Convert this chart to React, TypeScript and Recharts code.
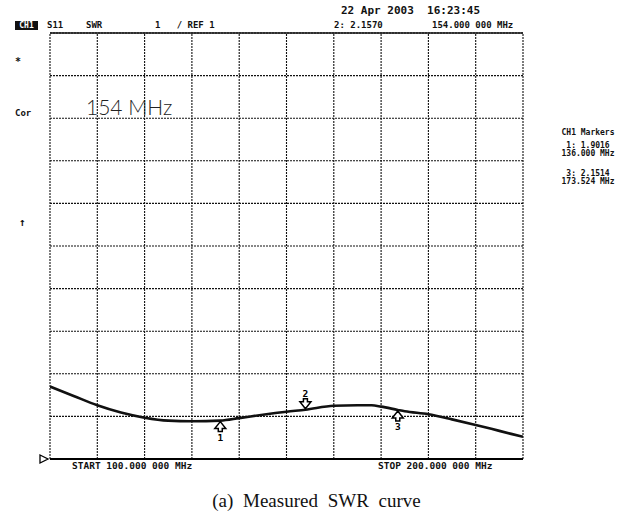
import { ComposedChart, Line, Scatter, XAxis, YAxis, ReferenceLine, ReferenceDot } from "recharts";

// measured trace, MHz vs SWR
const freqs = [100, 105, 110, 115, 120, 125, 130, 136, 140, 145, 150, 154, 160, 165, 168, 170, 173.524, 175, 180, 185, 190, 195, 200];
const swr = [2.7, 2.48, 2.26, 2.09, 1.97, 1.9, 1.885, 1.9016, 1.96, 2.04, 2.11, 2.157, 2.25, 2.26, 2.26, 2.23, 2.1514, 2.12, 2.05, 1.93, 1.8, 1.66, 1.52];

const markerIds = [1, 2, 3];
const markerFreqs = [136, 154, 173.524];
const markerSwr = [1.9016, 2.157, 2.1514];
const markerUp = [true, false, true];

const freqTicks = [100, 110, 120, 130, 140, 150, 160, 170, 180, 190, 200];
const swrTicks = [1, 2, 3, 4, 5, 6, 7, 8, 9, 10, 11];

const trace = freqs.map((f, i) => ({ freq: f, swr: swr[i] }));
const markers = markerIds.map((id, i) => ({ id, freq: markerFreqs[i], swr: markerSwr[i], up: markerUp[i] }));

const mono = "'DejaVu Sans Mono', monospace";

function MarkerShape(props: any) {
  const { cx, cy, payload } = props;
  if (payload.up) {
    const d = `M${cx},${cy + 1} L${cx - 5.5},${cy + 8} L${cx - 2},${cy + 8} L${cx - 2},${cy + 11} L${cx + 2},${cy + 11} L${cx + 2},${cy + 8} L${cx + 5.5},${cy + 8} Z`;
    return (
      <g>
        <path d={d} fill="#fff" stroke="#000" strokeWidth={1.5} />
        <text x={cx} y={cy + 20} textAnchor="middle" fontSize={9.5} fontFamily={mono} fontWeight="bold">{payload.id}</text>
      </g>
    );
  }
  const d = `M${cx},${cy - 1} L${cx - 5.5},${cy - 8} L${cx - 2},${cy - 8} L${cx - 2},${cy - 11} L${cx + 2},${cy - 11} L${cx + 2},${cy - 8} L${cx + 5.5},${cy - 8} Z`;
  return (
    <g>
      <path d={d} fill="#fff" stroke="#000" strokeWidth={1.5} />
      <text x={cx} y={cy - 13} textAnchor="middle" fontSize={9.5} fontFamily={mono} fontWeight="bold">{payload.id}</text>
    </g>
  );
}

function RefShape(props: any) {
  const { cx, cy } = props;
  return <path d={`M${cx - 10},${cy - 4} L${cx - 2},${cy} L${cx - 10},${cy + 4} Z`} fill="#fff" stroke="#000" strokeWidth={1.3} />;
}

function T({ x, y, size = 9, children, bold = true, font = mono, style = {} }: any) {
  return (
    <div
      style={{
        position: "absolute",
        left: x,
        top: y - size / 2,
        fontSize: size,
        lineHeight: `${size}px`,
        fontFamily: font,
        fontWeight: bold ? "bold" : "normal",
        whiteSpace: "pre",
        color: "#111",
        ...style,
      }}
    >
      {children}
    </div>
  );
}

export default function App() {
  const m1 = markers[0];
  const m2 = markers[1];
  const m3 = markers[2];
  return (
    <div style={{ position: "absolute", left: 0, top: 0, width: 633, height: 514, background: "#fff" }}>
      <ComposedChart width={633} height={514} margin={{ top: 33, right: 110, bottom: 55, left: 50 }}>
        <XAxis dataKey="freq" type="number" domain={[100, 200]} ticks={freqTicks} tick={false} tickLine={false} axisLine={false} height={0} allowDataOverflow />
        <YAxis dataKey="swr" type="number" domain={[1, 11]} ticks={swrTicks} tick={false} tickLine={false} axisLine={false} width={0} allowDataOverflow />
        {freqTicks.map((f) => (
          <ReferenceLine key={`v${f}`} x={f} stroke="#111" strokeWidth={1.1} strokeDasharray="2 1" />
        ))}
        {swrTicks.map((s) => (
          <ReferenceLine key={`h${s}`} y={s} stroke="#111" strokeWidth={1.1} strokeDasharray="2 1" />
        ))}
        <ReferenceLine y={11} stroke="#111" strokeWidth={1.3} />
        <ReferenceLine y={1} stroke="#000" strokeWidth={2} />
        <Line data={trace} dataKey="swr" type="monotone" stroke="#111" strokeWidth={2.6} dot={false} isAnimationActive={false} />
        <Scatter data={markers} dataKey="swr" shape={MarkerShape} isAnimationActive={false} />
        <ReferenceDot x={100} y={1} r={4} shape={RefShape} ifOverflow="visible" />
      </ComposedChart>

      <T x={341} y={10} size={11}>22 Apr 2003  16:23:45</T>
      <div style={{ position: "absolute", left: 15, top: 21, width: 23, height: 9, background: "#111", color: "#fff", fontFamily: mono, fontWeight: "bold", fontSize: 8, lineHeight: "9px", textAlign: "center" }}>CH1</div>
      <T x={47} y={25}>S11</T>
      <T x={86} y={25}>SWR</T>
      <T x={155} y={25}>1   / REF 1</T>
      <T x={334} y={25}>{`${m2.id}: ${m2.swr.toFixed(4)}`}</T>
      <T x={432} y={25}>{`${m2.freq.toFixed(3)} 000 MHz`}</T>

      <T x={15} y={62} size={10}>*</T>
      <T x={15} y={113}>Cor</T>
      <T x={19} y={222} size={11}>↑</T>

      <T x={86} y={106} size={21} bold={false} font="Lato, 'DejaVu Sans', sans-serif" style={{ fontWeight: 300, color: "#222" }}>154 MHz</T>

      <T x={548} y={133} size={8} style={{ width: 80, textAlign: "center" }}>CH1 Markers</T>
      <T x={548} y={146} size={8} style={{ width: 80, textAlign: "center" }}>{`${m1.id}: ${m1.swr.toFixed(4)}`}</T>
      <T x={548} y={154} size={8} style={{ width: 80, textAlign: "center" }}>{`${m1.freq.toFixed(3)} MHz`}</T>
      <T x={548} y={174} size={8} style={{ width: 80, textAlign: "center" }}>{`${m3.id}: ${m3.swr.toFixed(4)}`}</T>
      <T x={548} y={182} size={8} style={{ width: 80, textAlign: "center" }}>{`${m3.freq.toFixed(3)} MHz`}</T>

      <T x={72} y={466} size={9.5}>START 100.000 000 MHz</T>
      <T x={378} y={466} size={9.5}>STOP 200.000 000 MHz</T>

      <div style={{ position: "absolute", left: 0, width: 633, top: 490, textAlign: "center", fontFamily: "'Liberation Serif', serif", fontSize: 19, wordSpacing: 5, color: "#111" }}>
        (a) Measured SWR curve
      </div>
    </div>
  );
}
